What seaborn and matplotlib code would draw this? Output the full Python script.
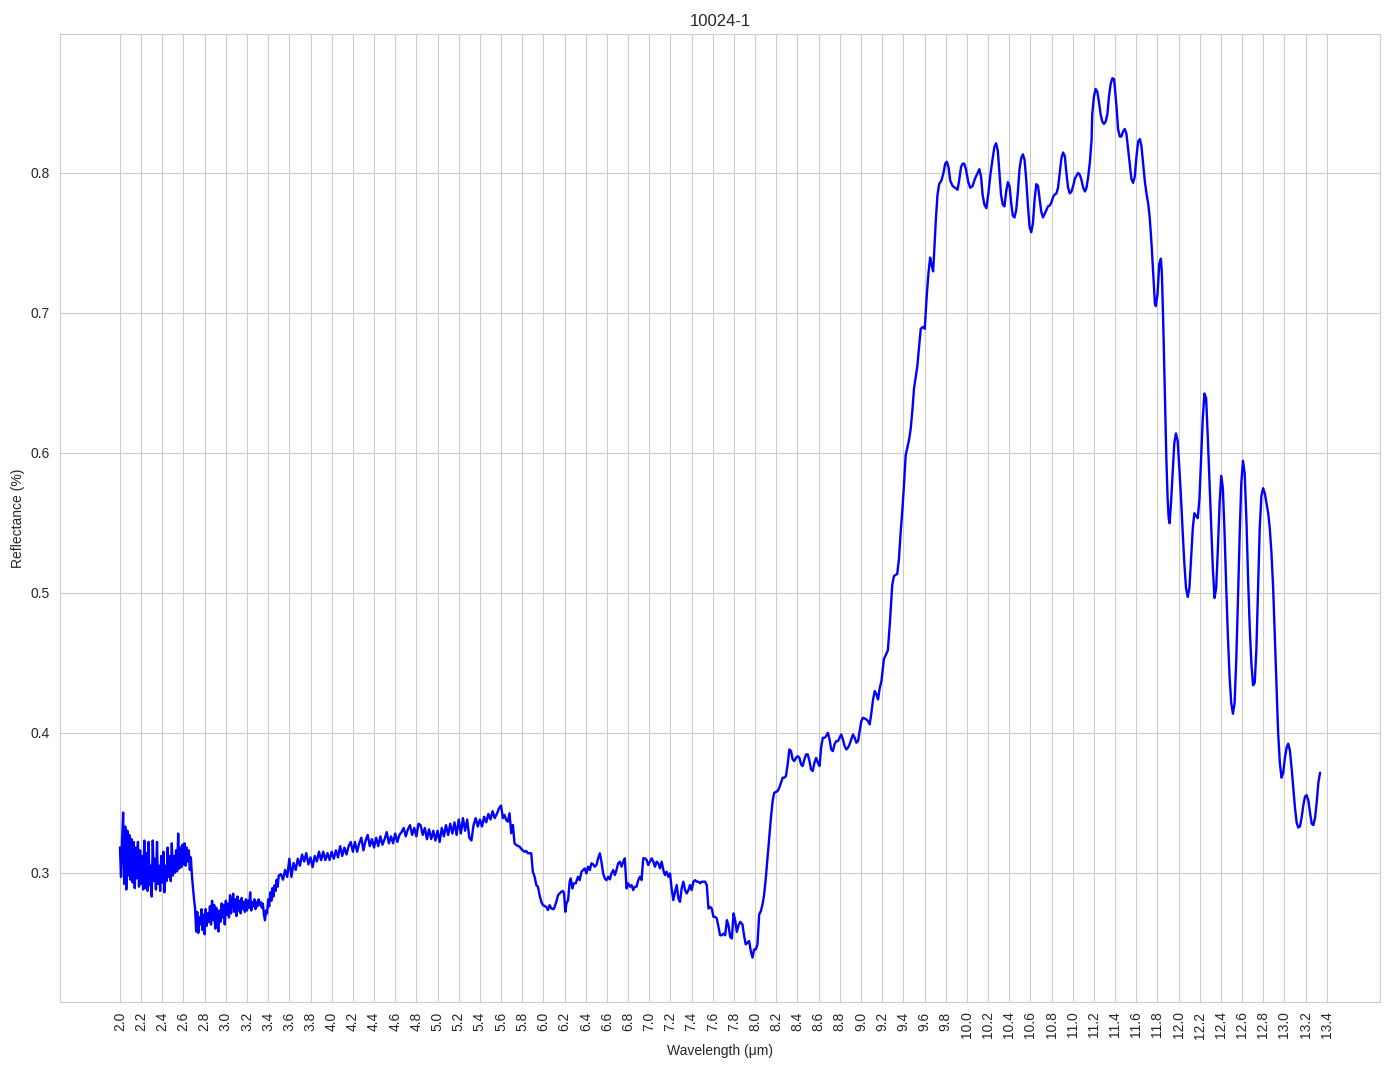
import numpy as np
import pandas as pd
import seaborn as sns
import matplotlib
matplotlib.use('Agg')
import matplotlib.pyplot as plt

# noisy part near 2 um, sampled every 0.01 um from 2.00
refl_a = [0.318, 0.297, 0.322, 0.343, 0.292, 0.333, 0.288, 0.330, 0.298, 0.327,
          0.295, 0.324, 0.293, 0.322, 0.289, 0.318, 0.296, 0.322, 0.290, 0.316,
          0.292, 0.312, 0.288, 0.323, 0.289, 0.314, 0.287, 0.322, 0.291, 0.305,
          0.283, 0.323, 0.294, 0.310, 0.288, 0.322, 0.292, 0.305, 0.287, 0.312,
          0.293, 0.315, 0.286, 0.305, 0.294, 0.318, 0.297, 0.312, 0.294, 0.321,
          0.298, 0.312, 0.300, 0.316, 0.301, 0.328, 0.303, 0.318, 0.304, 0.320,
          0.306, 0.321, 0.305, 0.318, 0.308, 0.316, 0.302, 0.311, 0.298, 0.289,
          0.281]

# 2.71 - 3.50 um, every 0.01 um
refl_b = [0.274, 0.258, 0.272, 0.257, 0.268, 0.263, 0.274, 0.259, 0.270, 0.256,
          0.274, 0.262, 0.271, 0.265, 0.276, 0.263, 0.280, 0.266, 0.277, 0.260,
          0.275, 0.264, 0.258, 0.273, 0.265, 0.278, 0.268, 0.277, 0.263, 0.280,
          0.270, 0.278, 0.268, 0.284, 0.271, 0.279, 0.285, 0.272, 0.281, 0.269,
          0.283, 0.273, 0.280, 0.271, 0.282, 0.274, 0.279, 0.272, 0.281, 0.273,
          0.280, 0.275, 0.286, 0.273, 0.279, 0.276, 0.281, 0.274, 0.279, 0.276,
          0.281, 0.277, 0.279, 0.275, 0.278, 0.270, 0.266, 0.273, 0.271, 0.281,
          0.276, 0.286, 0.280, 0.289, 0.283, 0.291, 0.287, 0.295, 0.290, 0.298]

# 3.52 - 5.60 um, every 0.02 um
refl_c = [0.299, 0.295, 0.302, 0.297, 0.310, 0.297, 0.307, 0.302, 0.310, 0.305,
          0.313, 0.308, 0.314, 0.306, 0.311, 0.304, 0.312, 0.308, 0.315, 0.309,
          0.315, 0.309, 0.314, 0.309, 0.315, 0.310, 0.316, 0.311, 0.319, 0.312,
          0.318, 0.313, 0.319, 0.322, 0.315, 0.322, 0.315, 0.321, 0.325, 0.316,
          0.323, 0.327, 0.319, 0.324, 0.318, 0.325, 0.319, 0.326, 0.320, 0.324,
          0.329, 0.321, 0.326, 0.321, 0.328, 0.322, 0.327, 0.329, 0.332, 0.326,
          0.331, 0.334, 0.327, 0.332, 0.326, 0.335, 0.334, 0.327, 0.332, 0.324,
          0.331, 0.324, 0.330, 0.323, 0.330, 0.322, 0.332, 0.326, 0.334, 0.327,
          0.335, 0.328, 0.336, 0.327, 0.338, 0.328, 0.339, 0.330, 0.338, 0.325,
          0.323, 0.334, 0.339, 0.333, 0.338, 0.333, 0.340, 0.336, 0.342, 0.338,
          0.344, 0.339, 0.342, 0.346, 0.348]

# smoother part, 5.6 - 13.34 um
wl_d = [5.617, 5.633, 5.648, 5.664, 5.680, 5.696, 5.712, 5.727, 5.743, 5.775,
        5.800, 5.822, 5.838, 5.854, 5.885, 5.900, 5.917, 5.933, 5.948, 5.964,
        5.980, 5.996, 6.027, 6.043, 6.059, 6.075, 6.097, 6.106, 6.122, 6.138,
        6.154, 6.169, 6.185, 6.195, 6.207, 6.217, 6.233, 6.248, 6.258, 6.274,
        6.286, 6.305, 6.327, 6.343, 6.359, 6.375, 6.390, 6.406, 6.422, 6.438,
        6.454, 6.469, 6.485, 6.501, 6.517, 6.533, 6.548, 6.564, 6.580, 6.596,
        6.612, 6.627, 6.643, 6.659, 6.675, 6.690, 6.706, 6.722, 6.738, 6.754,
        6.769, 6.785, 6.800, 6.817, 6.833, 6.848, 6.864, 6.880, 6.896, 6.911,
        6.927, 6.943, 6.959, 6.975, 6.990, 7.006, 7.022, 7.038, 7.054, 7.069,
        7.085, 7.101, 7.117, 7.133, 7.148, 7.164, 7.180, 7.196, 7.211, 7.227,
        7.243, 7.259, 7.275, 7.290, 7.306, 7.322, 7.338, 7.354, 7.369, 7.385,
        7.400, 7.417, 7.433, 7.448, 7.464, 7.480, 7.496, 7.511, 7.527, 7.543,
        7.559, 7.575, 7.590, 7.606, 7.622, 7.638, 7.654, 7.669, 7.685, 7.700,
        7.717, 7.733, 7.748, 7.764, 7.780, 7.796, 7.811, 7.827, 7.843, 7.859,
        7.880, 7.896, 7.911, 7.927, 7.943, 7.959, 7.975, 7.990, 8.006, 8.022,
        8.038, 8.054, 8.070, 8.085, 8.101, 8.117, 8.133, 8.149, 8.165, 8.180,
        8.212, 8.228, 8.244, 8.260, 8.275, 8.291, 8.307, 8.323, 8.339, 8.354,
        8.370, 8.386, 8.402, 8.418, 8.434, 8.449, 8.465, 8.481, 8.497, 8.513,
        8.528, 8.544, 8.560, 8.576, 8.592, 8.608, 8.623, 8.639, 8.655, 8.671,
        8.687, 8.703, 8.718, 8.734, 8.750, 8.766, 8.782, 8.797, 8.813, 8.829,
        8.845, 8.861, 8.877, 8.892, 8.908, 8.924, 8.940, 8.956, 8.972, 8.987,
        9.003, 9.019, 9.035, 9.051, 9.066, 9.082, 9.098, 9.114, 9.130, 9.146,
        9.161, 9.177, 9.193, 9.216, 9.254, 9.273, 9.295, 9.311, 9.342, 9.358,
        9.374, 9.390, 9.406, 9.422, 9.437, 9.453, 9.469, 9.485, 9.501, 9.516,
        9.532, 9.548, 9.564, 9.586, 9.602, 9.621, 9.637, 9.653, 9.665, 9.681,
        9.690, 9.706, 9.722, 9.738, 9.760, 9.779, 9.795, 9.811, 9.827, 9.842,
        9.865, 9.887, 9.912, 9.928, 9.944, 9.959, 9.975, 9.991, 10.013, 10.032,
        10.054, 10.077, 10.102, 10.118, 10.134, 10.149, 10.165, 10.184, 10.203, 10.222,
        10.244, 10.260, 10.276, 10.292, 10.308, 10.323, 10.339, 10.355, 10.371, 10.387,
        10.403, 10.418, 10.434, 10.450, 10.466, 10.482, 10.497, 10.513, 10.529, 10.545,
        10.561, 10.577, 10.592, 10.608, 10.624, 10.640, 10.656, 10.672, 10.687, 10.703,
        10.719, 10.735, 10.751, 10.766, 10.782, 10.798, 10.814, 10.830, 10.846, 10.861,
        10.877, 10.893, 10.909, 10.925, 10.940, 10.956, 10.972, 10.988, 11.004, 11.020,
        11.051, 11.067, 11.083, 11.099, 11.115, 11.130, 11.146, 11.162, 11.178, 11.184,
        11.200, 11.216, 11.232, 11.247, 11.263, 11.279, 11.295, 11.311, 11.327, 11.342,
        11.358, 11.374, 11.390, 11.399, 11.415, 11.428, 11.444, 11.459, 11.475, 11.491,
        11.507, 11.523, 11.539, 11.554, 11.570, 11.586, 11.602, 11.618, 11.634, 11.649,
        11.665, 11.681, 11.697, 11.713, 11.728, 11.744, 11.760, 11.776, 11.785, 11.801,
        11.817, 11.833, 11.842, 11.855, 11.865, 11.874, 11.884, 11.896, 11.906, 11.915,
        11.928, 11.944, 11.959, 11.975, 11.991, 12.007, 12.023, 12.039, 12.054, 12.070,
        12.086, 12.102, 12.118, 12.134, 12.149, 12.165, 12.181, 12.197, 12.213, 12.228,
        12.244, 12.260, 12.276, 12.292, 12.308, 12.323, 12.339, 12.355, 12.371, 12.387,
        12.403, 12.418, 12.434, 12.450, 12.466, 12.482, 12.497, 12.513, 12.529, 12.545,
        12.561, 12.577, 12.592, 12.608, 12.624, 12.640, 12.656, 12.672, 12.687, 12.703,
        12.719, 12.735, 12.751, 12.766, 12.782, 12.798, 12.814, 12.830, 12.846, 12.861,
        12.877, 12.893, 12.909, 12.925, 12.940, 12.956, 12.972, 12.988, 13.004, 13.020,
        13.035, 13.051, 13.067, 13.083, 13.099, 13.115, 13.130, 13.146, 13.162, 13.178,
        13.194, 13.209, 13.225, 13.241, 13.257, 13.273, 13.289, 13.304, 13.320, 13.336]

refl_d = [0.3390, 0.3413, 0.3377, 0.3365, 0.3425, 0.3282, 0.3341, 0.3210, 0.3198, 0.3186,
          0.3162, 0.3150, 0.3155, 0.3139, 0.3139, 0.3007, 0.2971, 0.2912, 0.2900, 0.2840,
          0.2792, 0.2768, 0.2756, 0.2733, 0.2768, 0.2744, 0.2740, 0.2756, 0.2792, 0.2840,
          0.2852, 0.2864, 0.2869, 0.2852, 0.2721, 0.2780, 0.2804, 0.2936, 0.2959, 0.2888,
          0.2924, 0.2924, 0.2971, 0.2947, 0.3007, 0.3019, 0.3031, 0.2995, 0.3043, 0.3019,
          0.3067, 0.3060, 0.3043, 0.3055, 0.3103, 0.3139, 0.3079, 0.2995, 0.2959, 0.2947,
          0.2971, 0.2952, 0.2995, 0.3019, 0.2983, 0.3019, 0.3067, 0.3079, 0.3043, 0.3079,
          0.3103, 0.2888, 0.2924, 0.2900, 0.2912, 0.2876, 0.2900, 0.2900, 0.2947, 0.2971,
          0.2947, 0.3103, 0.3103, 0.3091, 0.3055, 0.3079, 0.3103, 0.3079, 0.3043, 0.3079,
          0.3067, 0.3031, 0.3079, 0.3019, 0.2983, 0.3007, 0.2971, 0.2995, 0.2888, 0.2804,
          0.2864, 0.2912, 0.2816, 0.2792, 0.2888, 0.2936, 0.2876, 0.2852, 0.2876, 0.2912,
          0.2876, 0.2936, 0.2947, 0.2936, 0.2936, 0.2924, 0.2936, 0.2936, 0.2936, 0.2912,
          0.2744, 0.2756, 0.2744, 0.2685, 0.2685, 0.2673, 0.2613, 0.2553, 0.2553, 0.2565,
          0.2553, 0.2661, 0.2625, 0.2541, 0.2530, 0.2709, 0.2661, 0.2577, 0.2625, 0.2649,
          0.2631, 0.2548, 0.2488, 0.2500, 0.2512, 0.2440, 0.2393, 0.2452, 0.2452, 0.2488,
          0.2702, 0.2726, 0.2774, 0.2845, 0.2964, 0.3107, 0.3250, 0.3393, 0.3512, 0.3571,
          0.3583, 0.3607, 0.3643, 0.3679, 0.3679, 0.3690, 0.3774, 0.3881, 0.3869, 0.3810,
          0.3798, 0.3821, 0.3833, 0.3821, 0.3774, 0.3762, 0.3810, 0.3845, 0.3845, 0.3798,
          0.3738, 0.3726, 0.3786, 0.3821, 0.3786, 0.3762, 0.3893, 0.3964, 0.3964, 0.3976,
          0.4000, 0.3952, 0.3881, 0.3869, 0.3917, 0.3940, 0.3940, 0.3964, 0.3988, 0.3952,
          0.3905, 0.3881, 0.3893, 0.3917, 0.3952, 0.3988, 0.3964, 0.3929, 0.3940, 0.4012,
          0.4083, 0.4107, 0.4102, 0.4095, 0.4083, 0.4060, 0.4143, 0.4238, 0.4298, 0.4274,
          0.4238, 0.4321, 0.4369, 0.4525, 0.4590, 0.4790, 0.5056, 0.5120, 0.5135, 0.5240,
          0.5427, 0.5586, 0.5772, 0.5984, 0.6037, 0.6090, 0.6170, 0.6302, 0.6462, 0.6540,
          0.6620, 0.6753, 0.6886, 0.6900, 0.6886, 0.7125, 0.7284, 0.7395, 0.7350, 0.7297,
          0.7416, 0.7655, 0.7840, 0.7920, 0.7947, 0.8000, 0.8066, 0.8080, 0.8040, 0.7947,
          0.7907, 0.7894, 0.7880, 0.7950, 0.8040, 0.8066, 0.8066, 0.8027, 0.7934, 0.7894,
          0.7907, 0.7960, 0.8000, 0.8027, 0.7973, 0.7841, 0.7775, 0.7748, 0.7854, 0.7987,
          0.8106, 0.8186, 0.8212, 0.8160, 0.8000, 0.7841, 0.7775, 0.7761, 0.7867, 0.7934,
          0.7907, 0.7788, 0.7695, 0.7682, 0.7735, 0.7867, 0.8027, 0.8106, 0.8133, 0.8093,
          0.7947, 0.7761, 0.7615, 0.7576, 0.7642, 0.7814, 0.7920, 0.7907, 0.7814, 0.7722,
          0.7682, 0.7708, 0.7735, 0.7761, 0.7767, 0.7788, 0.7828, 0.7846, 0.7854, 0.7894,
          0.8000, 0.8106, 0.8146, 0.8120, 0.8000, 0.7894, 0.7854, 0.7867, 0.7907, 0.7960,
          0.8000, 0.7987, 0.7947, 0.7894, 0.7867, 0.7894, 0.7973, 0.8080, 0.8239, 0.8420,
          0.8545, 0.8600, 0.8580, 0.8510, 0.8420, 0.8367, 0.8350, 0.8367, 0.8420, 0.8545,
          0.8635, 0.8677, 0.8670, 0.8600, 0.8456, 0.8314, 0.8260, 0.8260, 0.8296, 0.8314,
          0.8280, 0.8170, 0.8064, 0.7957, 0.7929, 0.7975, 0.8118, 0.8225, 0.8242, 0.8190,
          0.8064, 0.7940, 0.7850, 0.7780, 0.7672, 0.7494, 0.7280, 0.7066, 0.7048, 0.7137,
          0.7351, 0.7387, 0.7280, 0.6923, 0.6602, 0.6317, 0.5961, 0.5676, 0.5533, 0.5497,
          0.5640, 0.5854, 0.6068, 0.6139, 0.6085, 0.5889, 0.5676, 0.5426, 0.5212, 0.5034,
          0.4970, 0.5034, 0.5248, 0.5462, 0.5569, 0.5551, 0.5533, 0.5676, 0.5961, 0.6246,
          0.6424, 0.6389, 0.6103, 0.5783, 0.5462, 0.5177, 0.4963, 0.5034, 0.5319, 0.5640,
          0.5836, 0.5747, 0.5426, 0.5034, 0.4677, 0.4392, 0.4214, 0.4136, 0.4214, 0.4535,
          0.4963, 0.5426, 0.5783, 0.5943, 0.5854, 0.5533, 0.5105, 0.4748, 0.4499, 0.4339,
          0.4357, 0.4606, 0.5034, 0.5462, 0.5694, 0.5747, 0.5711, 0.5640, 0.5569, 0.5462,
          0.5283, 0.5034, 0.4677, 0.4321, 0.4000, 0.3786, 0.3679, 0.3715, 0.3822, 0.3893,
          0.3922, 0.3875, 0.3750, 0.3608, 0.3465, 0.3358, 0.3323, 0.3330, 0.3394, 0.3483,
          0.3544, 0.3554, 0.3519, 0.3430, 0.3351, 0.3340, 0.3394, 0.3501, 0.3643, 0.3715]

wl_a = np.round(2.00 + 0.01 * np.arange(len(refl_a)), 3)
wl_b = np.round(2.71 + 0.01 * np.arange(len(refl_b)), 3)
wl_c = np.round(3.52 + 0.02 * np.arange(len(refl_c)), 3)

df = pd.DataFrame({
    "wavelength": np.concatenate([wl_a, wl_b, wl_c, wl_d]),
    "reflectance": np.concatenate([refl_a, refl_b, refl_c, refl_d]),
})

sns.set_style("whitegrid")
plt.rcParams['font.family'] = ['Liberation Sans', 'DejaVu Sans']
fig, ax = plt.subplots(figsize=(13.94, 10.69), dpi=100)
sns.lineplot(data=df, x="wavelength", y="reflectance", color="blue",
             linewidth=1.7, estimator=None, ax=ax)

xticks = np.round(np.arange(2.0, 13.41, 0.2), 1)
ax.set_xticks(xticks)
ax.set_xticklabels([f"{t:.1f}" for t in xticks], rotation=90)
ax.set_yticks([0.3, 0.4, 0.5, 0.6, 0.7, 0.8])
ax.set_title("10024-1")
ax.set_xlabel("Wavelength (μm)")
ax.set_ylabel("Reflectance (%)")

plt.subplots_adjust(left=0.043, right=0.99, top=0.968, bottom=0.063)
plt.savefig("out.png")
plt.close()
